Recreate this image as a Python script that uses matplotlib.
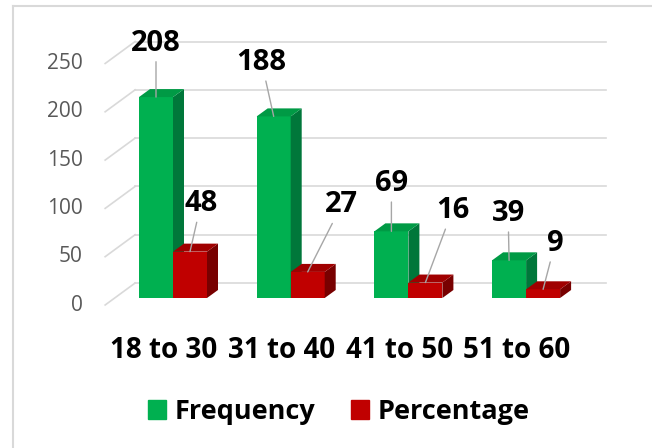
import numpy as np
import matplotlib.pyplot as plt
from matplotlib.patches import Patch
from matplotlib.lines import Line2D

plt.rcParams['font.family'] = ['Open Sans', 'DejaVu Sans']

categories = ['18 to 30', '31 to 40', '41 to 50', '51 to 60']
frequency = [208, 188, 69, 39]
percentage = [48, 27, 16, 9]
yticks = [0, 50, 100, 150, 200, 250]

# label offsets in pixels (dx, dy up) from top front centre of each bar
freq_lab_off = [(0, 54), (-12, 54), (0, 48), (-1, 47)]
perc_lab_off = [(11, 48), (34, 67), (27, 72), (12, 46)]

green, green_side, green_top = '#00b050', '#00773a', '#009a45'
red, red_side, red_top = '#c00000', '#780000', '#a00000'
grid_c = '#d9d9d9'

W, H = 652, 448
fig = plt.figure(figsize=(W / 100, H / 100), dpi=100)

# pixel geometry of the front plane of the bars
X0, SX = 173, 117.7     # pixel of x=0, pixels per category
Y0, SY = 298, 0.966     # pixel (from top) of y=0, pixels per unit
left_px, right_px, top_px = 100, 600, 40
ax = fig.add_axes([left_px / W, (H - Y0) / H, (right_px - left_px) / W, (Y0 - top_px) / H])
ax.set_xlim((left_px - X0) / SX, (right_px - X0) / SX)
ax.set_ylim(0, (Y0 - top_px) / SY)
ax.axis('off')

def dx(p):
    return p / SX

def dy(p):
    return p / SY

# depth offsets (pixels): back wall, bar depth, front label plane
wall = (21, 15)
depth = (11, 8)
lab = (-9, -7)

# back wall grid + floor diagonals
for v in yticks:
    ax.plot([-0.5 + dx(wall[0]), 3.5 + dx(wall[0])], [v + dy(wall[1])] * 2,
            color=grid_c, lw=1.2, clip_on=False, zorder=1)
    ax.plot([-0.5 + dx(lab[0]), -0.5 + dx(wall[0])], [v + dy(lab[1]), v + dy(wall[1])],
            color=grid_c, lw=1.2, clip_on=False, zorder=1)
    ax.text(dx(83 - X0), v + dy(lab[1]), str(v), ha='right', va='center',
            fontsize=15, color='#595959', clip_on=False)

x = np.arange(len(categories))
bw = 34 / SX

def bar3d(lefts, vals, front, side, top, z):
    ax.bar(lefts, vals, width=bw, align='edge', color=front, zorder=z, clip_on=False)
    for l, v in zip(lefts, vals):
        r = l + bw
        ax.fill([r, r + dx(depth[0]), r + dx(depth[0]), r],
                [0, dy(depth[1]), v + dy(depth[1]), v], color=side, zorder=z, lw=0)
        ax.fill([l, l + dx(depth[0]), r + dx(depth[0]), r],
                [v, v + dy(depth[1]), v + dy(depth[1]), v], color=top, zorder=z, lw=0)

for i in range(len(categories)):
    bar3d([x[i] - bw], [frequency[i]], green, green_side, green_top, 3 + 2 * i)
    bar3d([x[i]], [percentage[i]], red, red_side, red_top, 4 + 2 * i)

def labels(centres, vals, offs):
    for c, v, o in zip(centres, vals, offs):
        ax.annotate(str(v), xy=(c, v), xytext=o, textcoords='offset pixels',
                    ha='center', va='center', fontsize=21, fontweight='bold',
                    color='black', zorder=20,
                    arrowprops=dict(arrowstyle='-', color='#a6a6a6', lw=1,
                                    shrinkA=1, shrinkB=0))

labels(x - bw / 2, frequency, freq_lab_off)
labels(x + bw / 2, percentage, perc_lab_off)

for i, c in enumerate(categories):
    ax.text(x[i] + dx(lab[0]), -dy(350 - Y0), c, ha='center', va='center',
            fontsize=20, fontweight='bold', clip_on=False)

handles = [Patch(color=green, label='Frequency'), Patch(color=red, label='Percentage')]
fig.legend(handles=handles, loc='center', bbox_to_anchor=(339 / W, 1 - 412 / H), ncol=2,
           frameon=False, prop={'size': 19.5, 'weight': 'bold'}, handlelength=0.65,
           handleheight=0.65, handletextpad=0.35, columnspacing=1.3)

# chart frame (left and top edges visible)
fig.add_artist(Line2D([13.5 / W, 13.5 / W], [0, 1 - 6.5 / H], color=grid_c, lw=1.5))
fig.add_artist(Line2D([13.5 / W, 1], [1 - 6.5 / H, 1 - 6.5 / H], color=grid_c, lw=1.5))

fig.savefig('out.png', dpi=100)
